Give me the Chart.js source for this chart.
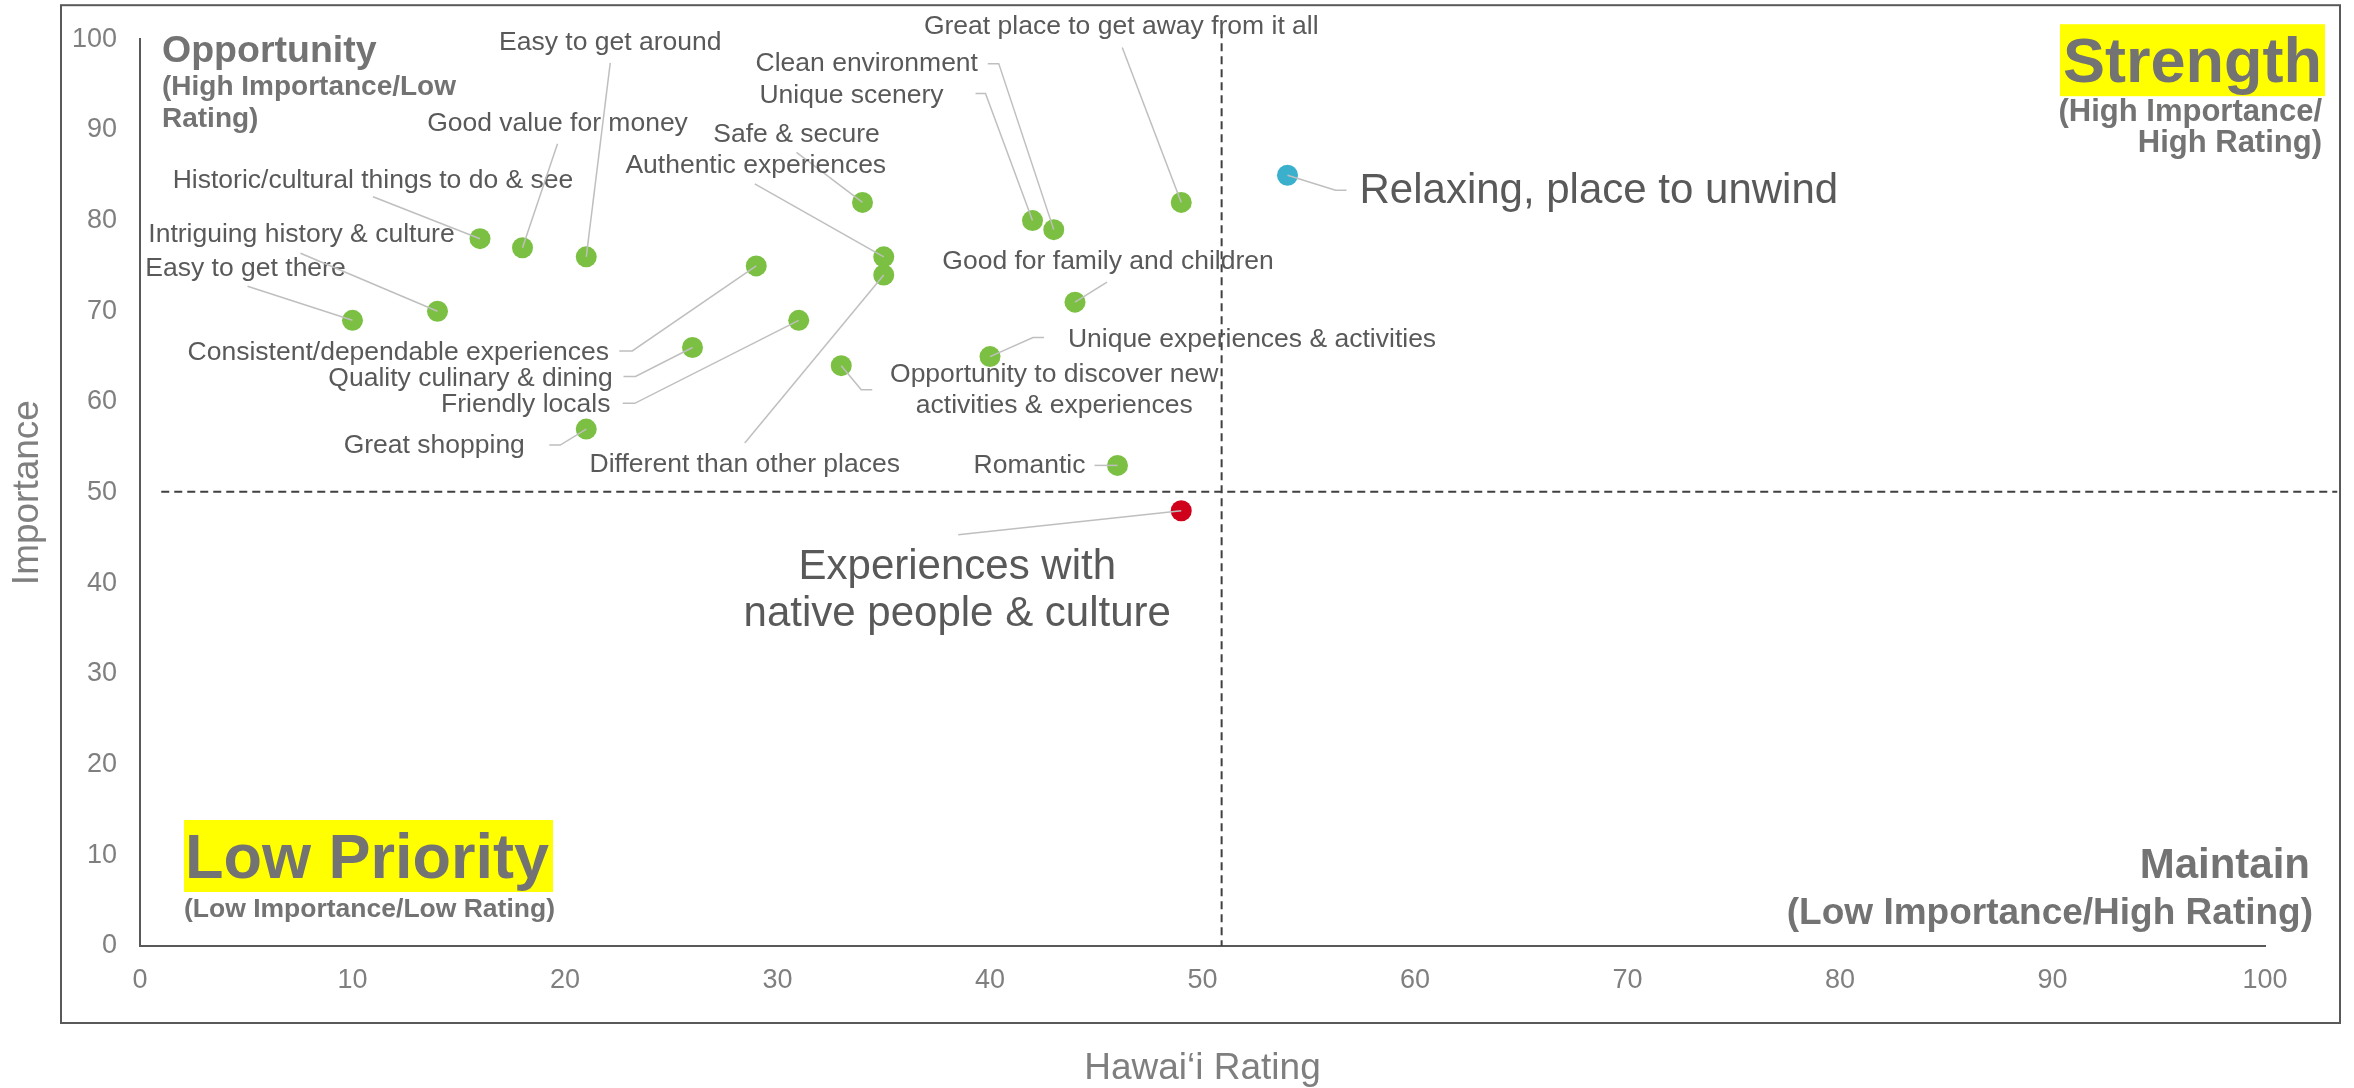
<!DOCTYPE html>
<html>
<head>
<meta charset="utf-8">
<script src="https://cdn.jsdelivr.net/npm/chart.js@4.4.1/dist/chart.umd.min.js"></script>
<style>
html,body{margin:0;padding:0;background:#fff;}
canvas{display:block;}
</style>
</head>
<body>
<canvas id="c" width="2354" height="1088"></canvas>
<script>
// ---------------- DATA ----------------
const attributes = [
  "Easy to get there",
  "Intriguing history & culture",
  "Historic/cultural things to do & see",
  "Good value for money",
  "Easy to get around",
  "Great shopping",
  "Quality culinary & dining",
  "Consistent/dependable experiences",
  "Friendly locals",
  "Opportunity to discover new activities & experiences",
  "Safe & secure",
  "Authentic experiences",
  "Different than other places",
  "Unique experiences & activities",
  "Unique scenery",
  "Clean environment",
  "Good for family and children",
  "Romantic",
  "Great place to get away from it all"
];
const ratings     = [10, 14, 16, 18, 21, 21, 26, 29, 31, 33, 34, 35, 35, 40, 42, 43, 44, 46, 49];
const importances = [69, 70, 78, 77, 76, 57, 66, 75, 69, 64, 82, 76, 74, 65, 80, 79, 71, 53, 82];

const strengthAttributes  = ["Relaxing, place to unwind"];
const strengthRatings     = [54];
const strengthImportances = [85];

const gapAttributes  = ["Experiences with native people & culture"];
const gapRatings     = [49];
const gapImportances = [48];

const xTickValues = [0, 10, 20, 30, 40, 50, 60, 70, 80, 90, 100];
const yTickValues = [0, 10, 20, 30, 40, 50, 60, 70, 80, 90, 100];

const averageRating = 50.9;
const averageImportance = 50.1;

const xTitle = "Hawai\u2018i Rating";
const yTitle = "Importance";

const quadrantOpportunity = ["Opportunity", "(High Importance/Low", "Rating)"];
const quadrantStrength    = ["Strength", "(High Importance/", "High Rating)"];
const quadrantLowPriority = ["Low Priority", "(Low Importance/Low Rating)"];
const quadrantMaintain    = ["Maintain", "(Low Importance/High Rating)"];

// ---------------- LABEL PLACEMENT (pixel offsets from each point) ----------------
const labelPlacement = {
  "Easy to get there": {dx:-107, dy:-52, leader:[[-105,-34]]},
  "Intriguing history & culture": {dx:-136, dy:-77, leader:[[-137,-58]]},
  "Historic/cultural things to do & see": {dx:-107, dy:-58, leader:[[-107,-42]]},
  "Good value for money": {dx:35, dy:-124, leader:[[35,-104]]},
  "Easy to get around": {dx:24, dy:-214, leader:[[24,-194]]},
  "Great shopping": {dx:-152, dy:17, leader:[[-37,16],[-26,16]]},
  "Quality culinary & dining": {dx:-222, dy:31, leader:[[-69,29],[-57,29]]},
  "Consistent/dependable experiences": {dx:-358, dy:87, leader:[[-137,85],[-124,85]]},
  "Friendly locals": {dx:-273, dy:84, leader:[[-176,83],[-164,83]]},
  "Opportunity to discover new activities & experiences": {dx:213, dy:25, lines:["Opportunity to discover new","activities & experiences"], lh:31, leader:[[31,24],[20,24]]},
  "Safe & secure": {dx:-66, dy:-68, leader:[[-66,-50]]},
  "Authentic experiences": {dx:-128, dy:-91, leader:[[-129,-73]]},
  "Different than other places": {dx:-139, dy:190, leader:[[-139,168]]},
  "Unique experiences & activities": {dx:262, dy:-17, leader:[[54,-19],[43,-19]]},
  "Unique scenery": {dx:-181, dy:-125, leader:[[-57,-127],[-47,-127]]},
  "Clean environment": {dx:-187, dy:-166, leader:[[-66,-166],[-55,-166]]},
  "Good for family and children": {dx:33, dy:-40, leader:[[32,-20]]},
  "Romantic": {dx:-88, dy:0, leader:[[-23,0]]},
  "Great place to get away from it all": {dx:-60, dy:-176, leader:[[-59,-155]]},
  "Relaxing, place to unwind": {dx:72, dy:16, align:"left", size:42, leader:[[59,15],[48,15]]},
  "Experiences with native people & culture": {dx:-224, dy:80, size:42, lines:["Experiences with","native people & culture"], lh:47, leader:[[-223,24]]}
};

const FONT = "'Liberation Sans', Arial, Helvetica, sans-serif";

function toPoints(xs, ys){ return xs.map((x,i)=>({x:x, y:ys[i]})); }

const overlayPlugin = {
  id: 'overlay',
  beforeDraw(chart){
    const {ctx, chartArea:a} = chart;
    ctx.save();
    ctx.fillStyle = '#ffffff';
    ctx.fillRect(0,0,chart.width,chart.height);
    ctx.strokeStyle = '#595959';
    ctx.lineWidth = 2;
    ctx.strokeRect(a.left-79, a.top-34, (a.right+75)-(a.left-79), (a.bottom+77)-(a.top-34));
    ctx.restore();
  },
  beforeDatasetsDraw(chart){
    const {ctx, chartArea:a, scales:{x, y}} = chart;
    ctx.save();
    // highlight boxes
    ctx.fillStyle = '#FFFF00';
    ctx.fillRect(a.right-205, a.top-15, 265, 72);
    ctx.fillRect(a.left+44, a.bottom-126, 369, 72);
    // quadrant texts
    ctx.fillStyle = '#737373';
    ctx.textBaseline = 'alphabetic';
    ctx.textAlign = 'left';
    ctx.font = 'bold 37.5px ' + FONT;
    ctx.fillText(quadrantOpportunity[0], a.left+22, a.top+23);
    ctx.font = 'bold 28px ' + FONT;
    ctx.fillText(quadrantOpportunity[1], a.left+22, a.top+56);
    ctx.fillText(quadrantOpportunity[2], a.left+22, a.top+88);

    ctx.textAlign = 'right';
    ctx.font = 'bold 63px ' + FONT;
    ctx.fillText(quadrantStrength[0], a.right+57, a.top+43);
    ctx.font = 'bold 31px ' + FONT;
    ctx.fillText(quadrantStrength[1], a.right+57, a.top+82);
    ctx.fillText(quadrantStrength[2], a.right+57, a.top+113);

    ctx.textAlign = 'left';
    ctx.font = 'bold 63px ' + FONT;
    ctx.fillText(quadrantLowPriority[0], a.left+45, a.bottom-68);
    ctx.font = 'bold 26.5px ' + FONT;
    ctx.fillText(quadrantLowPriority[1], a.left+44, a.bottom-29);

    ctx.textAlign = 'right';
    ctx.font = 'bold 42px ' + FONT;
    ctx.fillText(quadrantMaintain[0], a.right+45, a.bottom-68);
    ctx.font = 'bold 37px ' + FONT;
    ctx.fillText(quadrantMaintain[1], a.right+48, a.bottom-22);

    // average dashed lines
    ctx.strokeStyle = '#404040';
    ctx.lineWidth = 2;
    ctx.setLineDash([8,5]);
    const hy = y.getPixelForValue(averageImportance);
    ctx.beginPath();
    ctx.moveTo(x.getPixelForValue(1), hy);
    ctx.lineTo(x.getPixelForValue(103.4), hy);
    ctx.stroke();
    const vx = x.getPixelForValue(averageRating);
    ctx.beginPath();
    ctx.moveTo(vx, y.getPixelForValue(101));
    ctx.lineTo(vx, y.getPixelForValue(0));
    ctx.stroke();
    ctx.restore();
  },
  afterDatasetsDraw(chart){
    const {ctx} = chart;
    ctx.save();
    chart.data.datasets.forEach((ds, di) => {
      const meta = chart.getDatasetMeta(di);
      meta.data.forEach((el, i) => {
        const name = ds.names[i];
        const p = labelPlacement[name];
        if (!p) return;
        const px = el.x, py = el.y;
        // leader line
        ctx.strokeStyle = '#BFBFBF';
        ctx.lineWidth = 1.5;
        ctx.setLineDash([]);
        ctx.beginPath();
        p.leader.forEach((o, k) => {
          if (k === 0) ctx.moveTo(px+o[0], py+o[1]); else ctx.lineTo(px+o[0], py+o[1]);
        });
        ctx.lineTo(px, py);
        ctx.stroke();
        // text
        const size = p.size || 26.5;
        const lines = p.lines || [name];
        const lh = p.lh || size*1.2;
        ctx.font = size + 'px ' + FONT;
        ctx.fillStyle = '#595959';
        ctx.textAlign = p.align || 'center';
        ctx.textBaseline = 'middle';
        const y0 = py + p.dy - (lines.length-1)*lh/2;
        lines.forEach((t, k) => ctx.fillText(t, px + p.dx, y0 + k*lh));
      });
    });
    ctx.restore();
  }
};

const tickFont = {family: FONT, size: 27};

new Chart(document.getElementById('c'), {
  type: 'scatter',
  data: {
    datasets: [
      {label: 'Attributes', names: attributes, data: toPoints(ratings, importances),
       backgroundColor: '#7CC043', borderWidth: 0, pointRadius: 10.5, pointHoverRadius: 10.5},
      {label: 'Strength', names: strengthAttributes, data: toPoints(strengthRatings, strengthImportances),
       backgroundColor: '#3AB0CD', borderWidth: 0, pointRadius: 10.5, pointHoverRadius: 10.5},
      {label: 'Gap', names: gapAttributes, data: toPoints(gapRatings, gapImportances),
       backgroundColor: '#D0021B', borderWidth: 0, pointRadius: 10.5, pointHoverRadius: 10.5}
    ]
  },
  options: {
    responsive: false,
    animation: false,
    devicePixelRatio: 1,
    layout: {padding: {top: 39, right: 89, left: 0, bottom: 0}},
    plugins: {legend: {display: false}, tooltip: {enabled: false}},
    scales: {
      x: {
        type: 'linear', min: 0, max: 100,
        afterBuildTicks: s => { s.ticks = xTickValues.map(v => ({value: v})); },
        afterFit: s => { s.height = 142; },
        grid: {display: false, drawTicks: false},
        border: {display: true, color: '#595959', width: 2},
        ticks: {color: '#7F7F7F', font: tickFont, padding: 18, maxRotation: 0, autoSkip: false},
        title: {display: true, text: xTitle, color: '#7F7F7F', font: {family: FONT, size: 37, lineHeight: 1}, padding: {top: 0, bottom: 1}}
      },
      y: {
        type: 'linear', min: 0, max: 100,
        afterBuildTicks: s => { s.ticks = yTickValues.map(v => ({value: v})); },
        afterFit: s => { s.width = 140; },
        grid: {display: false, drawTicks: false},
        border: {display: true, color: '#595959', width: 2},
        ticks: {color: '#7F7F7F', font: tickFont, padding: 23, autoSkip: false},
        title: {display: true, text: yTitle, color: '#7F7F7F', font: {family: FONT, size: 37, lineHeight: 1}, padding: {top: 9, bottom: 0}}
      }
    }
  },
  plugins: [overlayPlugin]
});
</script>
</body>
</html>
